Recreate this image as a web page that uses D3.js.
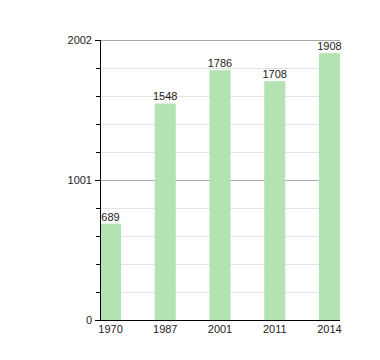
<!DOCTYPE html>
<html>
<head>
<meta charset="utf-8">
<script src="https://cdn.jsdelivr.net/npm/d3@7"></script>
<style>
  body { margin: 0; background: #fff; }
  text { font-family: "Liberation Sans", Arial, sans-serif; font-size: 11px; fill: #222; }
</style>
</head>
<body>
<div id="chart"></div>
<script>
var years = ['1970', '1987', '2001', '2011', '2014'];
var population = [689, 1548, 1786, 1708, 1908];
var majorTicks = [0, 1001, 2002];
var minorTicks = [200.2, 400.4, 600.6, 800.8, 1201.2, 1401.4, 1601.6, 1801.8];

var svgWidth = 380, svgHeight = 360,
    margin = { top: 40, right: 40, bottom: 40, left: 100 },
    chartWidth = svgWidth - margin.left - margin.right,
    chartHeight = svgHeight - margin.top - margin.bottom;

var svg = d3.select('#chart').append('svg')
    .attr('width', svgWidth)
    .attr('height', svgHeight)
    .append('g')
    .attr('transform', 'translate(' + margin.left + ',' + margin.top + ')');

var x = d3.scaleBand().domain(years).range([0, chartWidth])
    .paddingInner(0.616).paddingOuter(0);
var y = d3.scaleLinear().domain([0, 2002]).range([chartHeight, 0]);

// minor grid
svg.selectAll('.minor').data(minorTicks).enter().append('line')
    .attr('x1', 0).attr('x2', chartWidth)
    .attr('y1', function (d) { return Math.round(y(d)) + 0.5; })
    .attr('y2', function (d) { return Math.round(y(d)) + 0.5; })
    .attr('stroke', '#e2e2e2');
// major grid
svg.selectAll('.major').data(majorTicks.slice(1)).enter().append('line')
    .attr('x1', 0).attr('x2', chartWidth)
    .attr('y1', function (d) { return Math.round(y(d)) + 0.5; })
    .attr('y2', function (d) { return Math.round(y(d)) + 0.5; })
    .attr('stroke', '#aaaaaa');

// bars
svg.selectAll('.bar').data(population).enter().append('rect')
    .attr('x', function (d, i) { return x(years[i]); })
    .attr('y', function (d) { return y(d); })
    .attr('width', x.bandwidth())
    .attr('height', function (d) { return chartHeight - y(d); })
    .attr('fill', '#b3e3b3');

svg.selectAll('.val').data(population).enter().append('text')
    .attr('x', function (d, i) { return x(years[i]) + x.bandwidth() / 2; })
    .attr('y', function (d) { return y(d) - 3; })
    .attr('text-anchor', 'middle')
    .text(function (d) { return d; });

// y axis with minor ticks
var yAxis = d3.axisLeft(y).tickValues(majorTicks).tickSize(5).tickPadding(3).tickFormat(d3.format('d'));
var yMinor = d3.axisLeft(y).tickValues(minorTicks).tickSize(4).tickFormat('');
var ya = svg.append('g').call(yAxis);
svg.append('g').call(yMinor).select('.domain').remove();
ya.select('.domain').attr('d', 'M0.5,0V' + chartHeight).attr('stroke', '#000');
svg.selectAll('.tick line').attr('stroke', '#000');
ya.selectAll('text').style('font-size', '11px').style('font-family', '"Liberation Sans", Arial, sans-serif').attr('fill', '#222');

// x axis
var xa = svg.append('g')
    .attr('transform', 'translate(0,' + chartHeight + ')')
    .call(d3.axisBottom(x).tickSize(0).tickPadding(5));
xa.select('.domain').attr('d', 'M0,0.5H' + chartWidth).attr('stroke', '#000');
xa.selectAll('text').style('font-size', '11px').style('font-family', '"Liberation Sans", Arial, sans-serif').attr('fill', '#222');
</script>
</body>
</html>
